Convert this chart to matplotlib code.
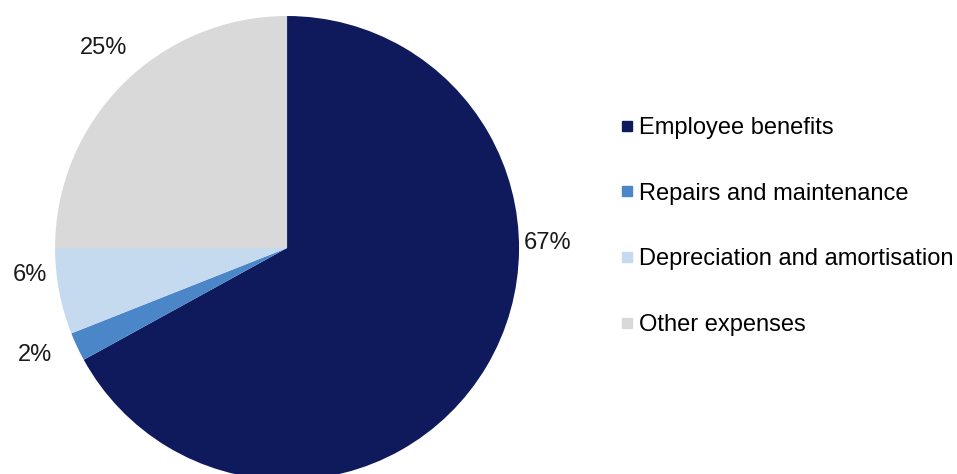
import matplotlib.pyplot as plt
from matplotlib.lines import Line2D

plt.rcParams['font.family'] = ['Liberation Sans', 'DejaVu Sans']

# expense breakdown, percent of total
categories = ['Employee benefits', 'Repairs and maintenance',
              'Depreciation and amortisation', 'Other expenses']
shares = [67, 2, 6, 25]
colours = ['#0E1A5C', '#4A86C8', '#C5D9EF', '#D9D9D9']

# where each percentage label sits (data units, pie radius = 1)
label_pos = [(1.125, 0.022), (-1.086, -0.461), (-1.108, -0.116), (-0.793, 0.862)]

fig = plt.figure(figsize=(9.57, 4.74), dpi=100)
ax = fig.add_axes([0.0575, -0.01266, 0.4849, 0.9789])
ax.pie(shares, colors=colours, startangle=90, counterclock=False, radius=1,
       wedgeprops=dict(linewidth=0))
ax.set_xlim(-1, 1)
ax.set_ylim(-1, 1)
ax.set_aspect('equal')
ax.axis('off')

for val, (x, y) in zip(shares, label_pos):
    ax.text(x, y, f'{val}%', ha='center', va='center', fontsize=17,
            color='#1a1a1a', clip_on=False)

handles = [Line2D([], [], marker='s', linestyle='none', markersize=7.5,
                  markerfacecolor=c, markeredgecolor=c) for c in colours]
fig.legend(handles, categories, loc='center left',
           bbox_to_anchor=(0.649, 0.522), frameon=False, fontsize=17,
           handlelength=0.5, handletextpad=0.25, labelspacing=1.85,
           borderaxespad=0, borderpad=0)

fig.savefig('out.png', dpi=100)
